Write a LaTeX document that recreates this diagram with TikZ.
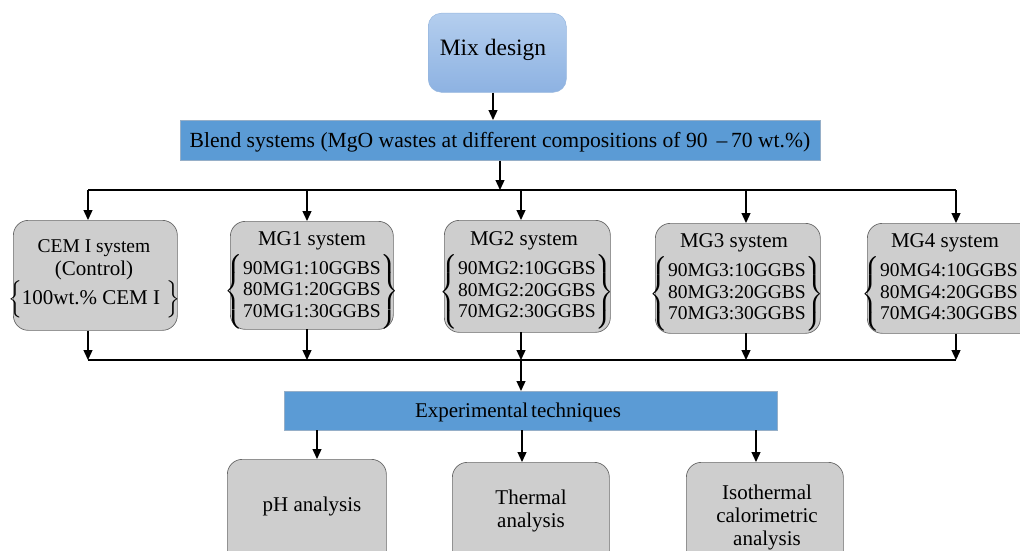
\documentclass[tikz,border=0pt]{standalone}
\usepackage{amsmath}
\usepackage{fontspec}
\setmainfont{Liberation Serif}
\usetikzlibrary{arrows.meta}

\definecolor{barblue}{RGB}{91,155,213}
\definecolor{baredge}{RGB}{150,175,200}
\definecolor{mixtop}{RGB}{180,206,238}
\definecolor{mixbot}{RGB}{141,178,226}
\definecolor{mixedge}{RGB}{150,182,222}
\definecolor{boxfill}{RGB}{206,206,206}
\definecolor{boxedge}{RGB}{105,105,105}

% three blend ratios of one MgO waste, held in a pair of tall braces
\newcommand{\bracedlist}[1]{%
  $\left\{\vcenter{\hbox{\rule{0pt}{75pt}}}\vcenter{\hbox{\fontsize{19.5}{21.5}\selectfont
  \begin{tabular}{@{}c@{}}90MG#1:10GGBS\\80MG#1:20GGBS\\70MG#1:30GGBS\end{tabular}}}\right\}$}

\begin{document}
\begin{tikzpicture}[x=1pt,y=-1pt,
  every node/.style={font=\fontsize{21}{23}\selectfont, align=center, inner sep=0pt},
  graybox/.style={draw=boxedge, fill=boxfill, rounded corners=15pt, line width=0.7pt, anchor=north west},
  bluebar/.style={draw=baredge, fill=barblue, line width=0.6pt, anchor=north west},
  arr/.style={-{Triangle[length=10pt,width=9pt]}, line width=1.3pt},
  bus/.style={line width=1.3pt}]
\clip (0,0) rectangle (1020,551);

% top level
\node[top color=mixtop, bottom color=mixbot, draw=mixedge, line width=0.5pt,
      rounded corners=13pt, minimum width=138, minimum height=79, anchor=north west] (mix) at (428,13) {};
\node (mixtxt) at (493,50) {\fontsize{23.5}{25}\selectfont Mix design};

\node[bluebar, minimum width=640, minimum height=40] (blend) at (180,120) {};
\node (blendtxt) at (500,142)
  {\fontsize{21.6}{23}\selectfont Blend systems (MgO wastes at different compositions of 90 \,--\,70 wt.\%)};

% blend systems
\node[graybox, minimum width=164, minimum height=110] (cem) at (13,220) {};
\node (cemtxt) at (94,279) {\fontsize{19.5}{21}\selectfont CEM I system\\(Control)\\
  $\Bigl\{$100wt.\% CEM I\hspace{6pt}$\Bigr\}$};

\node[graybox, minimum width=163, minimum height=108] (mg1) at (230,221) {};
\node (mg1t) at (312,241) {MG1 system};
\node (mg1l) at (312,291.5) {\bracedlist{1}};

\node[graybox, minimum width=166, minimum height=112] (mg2) at (444,220) {};
\node (mg2t) at (524,241) {MG2 system};
\node (mg2l) at (527,292) {\bracedlist{2}};

\node[graybox, minimum width=165, minimum height=110] (mg3) at (655,223) {};
\node (mg3t) at (734,243) {MG3 system};
\node (mg3l) at (737,294) {\bracedlist{3}};

\node[graybox, minimum width=168, minimum height=110] (mg4) at (867,223) {};
\node (mg4t) at (945,243) {MG4 system};
\node (mg4l) at (949,294) {\bracedlist{4}};

% techniques
\node[bluebar, minimum width=493, minimum height=39] (exp) at (284,391) {};
\node (exptxt) at (518,412) {Experimental\hspace{3pt}techniques};

\node[graybox, minimum width=159, minimum height=120] (ph) at (227,459) {};
\node (phtxt) at (312,506) {pH analysis};
\node[graybox, minimum width=157, minimum height=120] (th) at (452,462) {};
\node (thtxt) at (531,511) {Thermal\\analysis};
\node[graybox, minimum width=157, minimum height=120] (iso) at (686,462) {};
\node (isotxt) at (767,517) {Isothermal\\calorimetric\\analysis};

% distribution lines
\coordinate (busL) at (88,190);
\coordinate (busR) at (956,190);
\coordinate (lowL) at (88,360);
\coordinate (lowR) at (956,360);
\coordinate (lowM) at (521,360);

\draw[arr] (mix.south -| mixtxt) -- (mixtxt |- blend.north);
\draw[arr] (blend.south -| blendtxt) -- (blendtxt |- busL);
\draw[bus] (busL) -- (busR);
\draw[arr] (busL) -- (busL |- cem.north);
\draw[arr] (307,190) -- (307,221);
\draw[arr] (521,190) -- (521,220);
\draw[arr] (746,190) -- (746,223);
\draw[arr] (busR) -- (busR |- mg4.north);

\draw[bus] (lowL) -- (lowR);
\draw[arr] (busL |- cem.south) -- (lowL);
\draw[arr] (307,329) -- (307,360);
\draw[arr] (521,332) -- (lowM);
\draw[arr] (746,333) -- (746,360);
\draw[arr] (busR |- mg4.south) -- (lowR);
\draw[arr] (lowM) -- (lowM |- exp.north);

\draw[arr] (317,430) -- (317,459);
\draw[arr] (522,430) -- (522,462);
\draw[arr] (756,430) -- (756,462);
\end{tikzpicture}
\end{document}
